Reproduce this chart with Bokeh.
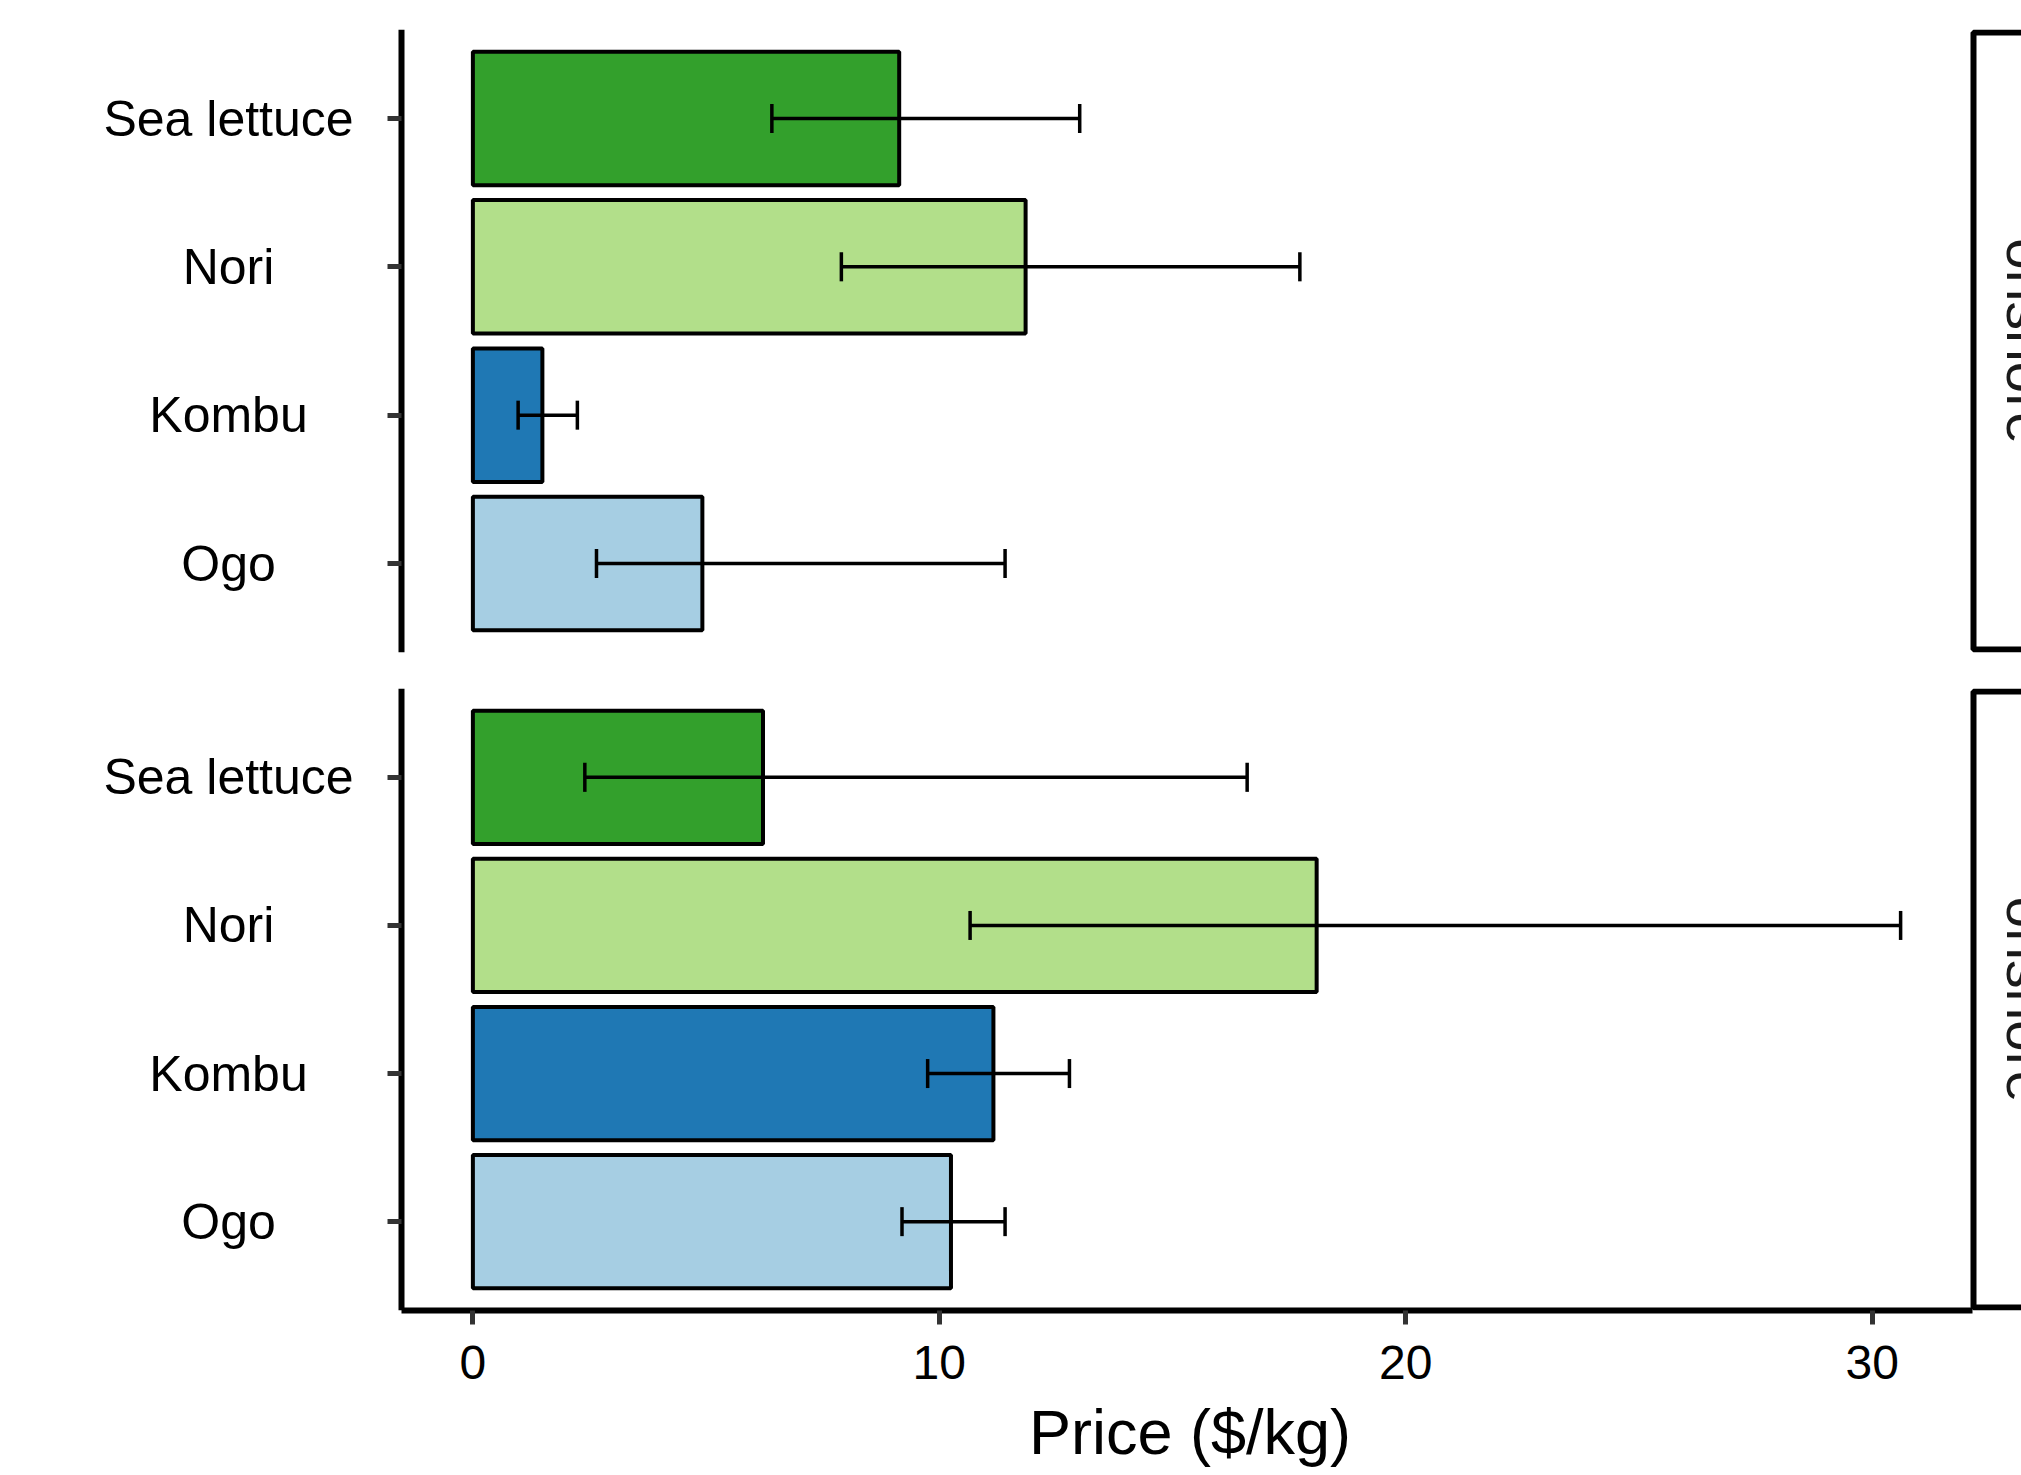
import math
from bokeh.plotting import figure
from bokeh.models import (ColumnDataSource, FactorRange, Range1d, CategoricalAxis,
                          FixedTicker, Whisker, TeeHead, CustomLabelingPolicy)
from bokeh.layouts import column, row
from bokeh.core.properties import value
from bokeh.embed import file_html
from bokeh.resources import INLINE

# ---------------- data ----------------
species = ["Sea lettuce", "Nori", "Kombu", "Ogo"]
colors = ["#33a02c", "#b2df8a", "#1f78b4", "#a6cee3"]
facets = ["onshore", "onshore"]

top_price = [9.14, 11.85, 1.49, 4.92]
top_lower = [6.41, 7.90, 0.97, 2.65]
top_upper = [13.01, 17.73, 2.24, 11.41]

bottom_price = [6.22, 18.09, 11.16, 10.25]
bottom_lower = [2.40, 10.66, 9.75, 9.20]
bottom_upper = [16.60, 30.61, 12.79, 11.41]

x_ticks = [0, 10, 20, 30]
x_label = "Price ($/kg)"

# ---------------- layout constants (page pixels) ----------------
FONT = "Liberation Sans"
PAGE_W = 2021
FRAME_LEFT = 358          # split between label column and plotting panel
PANEL_LEFT = 401.0
PANEL_RIGHT = 1971.5
LABEL_CENTER = 228.0
STRIP_LEFT = 1973.0
STRIP_TEXT_X = 2000.0
STRIP_TEXT_SHIFT = 26
CAT_PAD = 0.6  # discrete expansion on each side (category units)

data_max = max(top_upper + bottom_upper)
span = data_max - 0.0
lo = 0.0 - 0.05 * span
hi = data_max + 0.05 * span
ppu = (PANEL_RIGHT - PANEL_LEFT) / (hi - lo)


def px2x(page_x):
    return lo + (page_x - PANEL_LEFT) / ppu


x_range = Range1d(px2x(FRAME_LEFT), px2x(PAGE_W))
no_labels = CustomLabelingPolicy(code="return new Set()")


def make_row(price, lower, upper, facet, frame_h, b_top, b_bottom, show_x):
    height = b_top + frame_h + b_bottom
    y_range = FactorRange(factors=species[::-1], range_padding=CAT_PAD - 0.5,
                          range_padding_units="absolute")
    src = ColumnDataSource(dict(species=species, price=price, lower=lower,
                                upper=upper, color=colors))

    # ---- label column (centred category names) ----
    lab = figure(width=FRAME_LEFT, height=height, x_range=Range1d(0, FRAME_LEFT),
                 y_range=y_range, output_backend="svg", toolbar_location=None,
                 x_axis_location=None, y_axis_location=None,
                 min_border_left=0, min_border_right=0,
                 min_border_top=b_top, min_border_bottom=b_bottom,
                 outline_line_color=None, background_fill_color="white",
                 border_fill_color="white")
    lab.grid.visible = False
    lab.text(x=LABEL_CENTER, y="species", text="species", source=src,
             text_align="center", text_baseline="middle",
             text_font=value(FONT), text_font_size="50px", text_color="black")

    # ---- plotting panel ----
    p = figure(width=PAGE_W - FRAME_LEFT, height=height, x_range=x_range,
               y_range=y_range, output_backend="svg", toolbar_location=None,
               x_axis_location="below" if show_x else None,
               y_axis_location=None,
               min_border_left=0, min_border_right=0,
               min_border_top=b_top, min_border_bottom=b_bottom,
               outline_line_color=None, background_fill_color="white",
               border_fill_color="white")
    p.grid.visible = False

    p.hbar(y="species", left=0, right="price", height=0.9, fill_color="color",
           line_color="black", line_width=4, source=src)

    head_kw = dict(size=29, line_width=3.5, line_color="black")
    p.add_layout(Whisker(source=src, base="species", lower="lower", upper="upper",
                         dimension="width", line_width=3.5, line_color="black",
                         level="annotation",
                         upper_head=TeeHead(**head_kw), lower_head=TeeHead(**head_kw)))

    # y axis at the panel's left edge (ticks only; names are in the label column)
    yax = CategoricalAxis(fixed_location=lo, axis_line_width=6, axis_line_color="black",
                          major_tick_out=14, major_tick_in=0, major_tick_line_width=5,
                          major_tick_line_color="#333333",
                          major_label_policy=no_labels)
    p.add_layout(yax, "left")

    # facet strip on the right
    unit_px = frame_h / (len(species) - 1 + 2 * CAT_PAD)
    inset = 3.0 / unit_px
    strip = ColumnDataSource(dict(
        left=[px2x(STRIP_LEFT)], right=[px2x(STRIP_LEFT + 120)],
        top=[(species[0], CAT_PAD - inset)],
        bottom=[(species[-1], -(CAT_PAD - inset))],
    ))
    p.quad(left="left", right="right", bottom="bottom", top="top", source=strip,
           fill_color="white", line_color="black", line_width=6)
    mid = species[len(species) // 2]
    label_src = ColumnDataSource(dict(x=[px2x(STRIP_TEXT_X)], y=[(mid, 0.5)], text=[facet]))
    p.text(x="x", y="y", text="text", source=label_src, angle=-math.pi / 2,
           x_offset=STRIP_TEXT_SHIFT,
           text_align="center", text_baseline="alphabetic",
           text_font=value(FONT), text_font_size="57px", text_color="#1a1a1a")

    if show_x:
        ax = p.xaxis[0]
        ax.ticker = FixedTicker(ticks=x_ticks)
        ax.bounds = (lo, hi)
        ax.axis_line_width = 6
        ax.axis_line_color = "black"
        ax.major_tick_out = 14
        ax.major_tick_in = 0
        ax.minor_tick_line_color = None
        ax.major_tick_line_width = 5
        ax.major_tick_line_color = "#333333"
        ax.major_label_text_font = FONT
        ax.major_label_text_font_size = "48px"
        ax.major_label_text_color = "black"
        ax.major_label_standoff = 21
        ax.axis_label = x_label
        ax.axis_label_text_font = FONT
        ax.axis_label_text_font_size = "63px"
        ax.axis_label_text_font_style = "normal"
        ax.axis_label_text_color = "black"
        ax.axis_label_standoff = 15
    return row(lab, p, spacing=0)


top = make_row(top_price, top_lower, top_upper, facets[0], 623, 29, 18, False)
bottom = make_row(bottom_price, bottom_lower, bottom_upper, facets[1], 622, 18, 165, True)

layout = column(top, bottom, spacing=0)
open("out.html", "w").write(file_html(layout, INLINE))
